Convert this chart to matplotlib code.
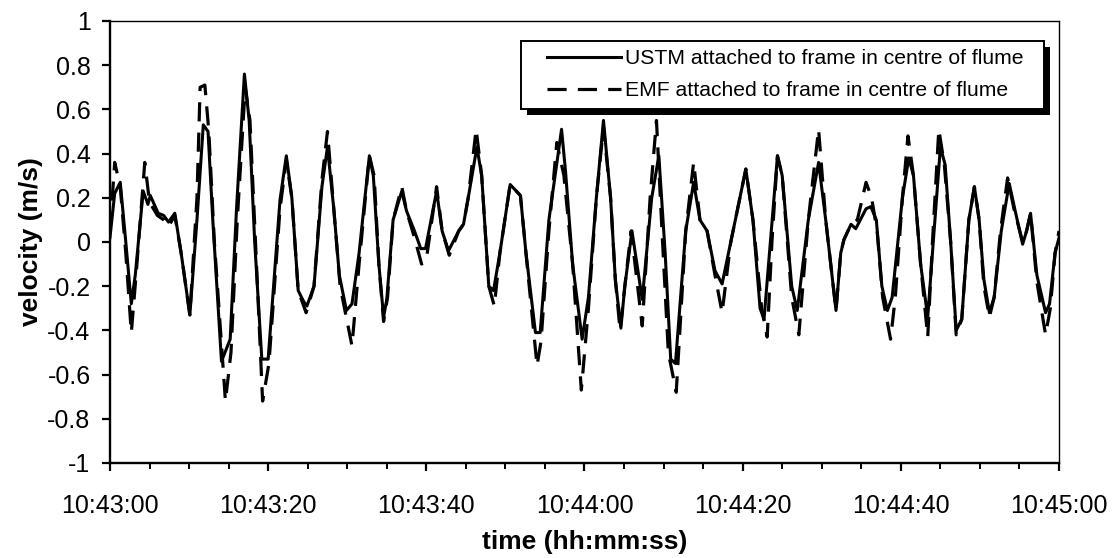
import matplotlib
matplotlib.use("Agg")
import matplotlib.pyplot as plt
from matplotlib.patches import Rectangle
from matplotlib.transforms import IdentityTransform

plt.rcParams['font.family'] = ['Liberation Sans', 'DejaVu Sans']

# seconds after 10:43:00
ustm_t = [0.0, 0.6, 1.3, 2.0, 2.7, 3.2, 4.2, 4.8, 5.1, 6.1, 6.8, 7.4, 8.2, 9.0,
          10.1, 11.0, 11.8, 12.4, 13.0, 14.1, 15.2, 16.0, 17.0, 17.6, 18.3, 19.2,
          20.0, 21.5, 22.3, 23.0, 23.8, 24.5, 24.9, 25.8, 26.8, 27.5, 28.3, 29.0,
          29.9, 30.6, 31.5, 32.8, 33.3, 34.0, 34.6, 35.0, 35.8, 36.9, 37.5, 38.5,
          39.3, 39.9, 41.3, 42.0, 42.8, 44.1, 44.7, 45.3, 46.4, 47.0, 47.9, 48.5,
          49.3, 50.6, 51.9, 52.6, 53.8, 54.4, 55.5, 57.1, 57.6, 58.5, 59.7, 60.5,
          61.5, 62.4, 63.3, 63.9, 64.6, 65.1, 66.0, 67.3, 68.5, 69.4, 70.2, 70.9,
          71.5, 72.8, 73.8, 74.6, 75.5, 76.5, 77.4, 78.5, 80.4, 81.3, 82.2, 82.7,
          83.5, 84.4, 85.0, 86.2, 86.9, 88.3, 89.6, 90.5, 91.8, 92.4, 92.8, 93.7,
          94.3, 95.6, 96.2, 96.9, 97.6, 98.3, 98.9, 100.2, 101.0, 101.6, 102.5,
          103.4, 104.1, 105.0, 105.6, 106.3, 107.0, 107.7, 108.6, 109.3, 109.9,
          110.5, 111.2, 111.8, 112.7, 113.7, 114.4, 115.4, 115.9, 116.4, 117.2,
          118.3, 118.8, 119.5, 120.0]
ustm_v = [0.02, 0.22, 0.27, 0.00, -0.28, -0.15, 0.23, 0.17, 0.21, 0.13, 0.12,
          0.09, 0.13, -0.05, -0.33, 0.10, 0.53, 0.50, 0.10, -0.54, -0.44, 0.15,
          0.76, 0.55, 0.00, -0.53, -0.53, 0.19, 0.39, 0.20, -0.22, -0.27, -0.29,
          -0.20, 0.25, 0.43, 0.15, -0.15, -0.31, -0.28, -0.05, 0.39, 0.30, -0.10,
          -0.34, -0.26, 0.10, 0.23, 0.14, 0.05, -0.03, -0.03, 0.23, 0.05, -0.04,
          0.05, 0.08, 0.20, 0.43, 0.30, -0.20, -0.22, -0.05, 0.26, 0.21, -0.05,
          -0.41, -0.41, 0.10, 0.51, 0.32, -0.10, -0.44, -0.25, 0.20, 0.55, 0.20,
          -0.17, -0.39, -0.20, 0.05, -0.26, 0.20, 0.39, -0.05, -0.53, -0.55, 0.05,
          0.27, 0.10, 0.05, -0.13, -0.19, 0.00, 0.33, 0.10, -0.30, -0.35, 0.00,
          0.39, 0.30, -0.20, -0.31, 0.10, 0.36, 0.10, -0.31, -0.05, 0.01, 0.08,
          0.06, 0.15, 0.16, 0.10, -0.20, -0.31, -0.25, 0.20, 0.38, 0.30, -0.10,
          -0.34, 0.00, 0.43, 0.35, 0.00, -0.40, -0.35, 0.10, 0.25, 0.10, -0.17,
          -0.32, -0.25, 0.05, 0.265, 0.15, -0.01, 0.05, 0.13, -0.15, -0.32, -0.28,
          -0.05, 0.02]

emf_t = [0.0, 0.6, 1.3, 2.0, 2.7, 3.3, 4.4, 5.0, 6.0, 6.8, 7.4, 8.2, 9.0, 10.1,
         11.0, 11.4, 12.0, 12.5, 13.2, 14.6, 15.3, 16.1, 17.1, 17.7, 18.4, 19.3,
         20.1, 21.5, 22.3, 23.0, 23.8, 24.8, 25.8, 26.8, 27.5, 28.3, 29.1, 30.6,
         31.5, 32.8, 33.4, 34.0, 34.6, 35.1, 35.8, 36.9, 37.5, 38.5, 39.4, 40.0,
         41.3, 42.0, 42.9, 44.1, 44.7, 45.3, 46.3, 47.0, 47.9, 48.6, 49.3, 50.6,
         51.9, 52.6, 54.0, 54.5, 55.5, 56.5, 57.4, 58.5, 59.6, 60.5, 61.5, 62.4,
         63.3, 63.9, 64.5, 65.1, 65.9, 67.3, 68.3, 69.1, 69.8, 70.6, 71.6, 72.8,
         73.8, 74.6, 75.5, 76.5, 77.4, 78.5, 80.4, 81.3, 82.4, 83.1, 83.7, 84.4,
         85.0, 86.2, 87.1, 88.3, 89.6, 90.5, 91.8, 92.4, 92.8, 93.7, 94.5, 95.6,
         96.3, 97.0, 97.7, 98.7, 99.3, 100.2, 100.9, 101.6, 102.5, 103.4, 104.0,
         104.8, 105.5, 106.3, 107.0, 107.7, 108.6, 109.3, 109.9, 110.5, 111.2,
         111.8, 112.6, 113.5, 114.3, 115.4, 115.9, 116.4, 117.2, 118.3, 118.9,
         119.5, 120.0]
emf_v = [0.05, 0.36, 0.25, -0.05, -0.41, -0.15, 0.36, 0.18, 0.12, 0.10, 0.07,
         0.12, -0.05, -0.33, 0.20, 0.70, 0.71, 0.50, 0.00, -0.72, -0.50, 0.10,
         0.70, 0.55, 0.00, -0.72, -0.55, 0.15, 0.37, 0.20, -0.22, -0.32, -0.20,
         0.28, 0.50, 0.15, -0.20, -0.47, -0.10, 0.39, 0.30, -0.10, -0.36, -0.25,
         0.10, 0.25, 0.14, 0.02, -0.10, -0.08, 0.25, 0.05, -0.06, 0.05, 0.08,
         0.20, 0.51, 0.30, -0.20, -0.29, -0.05, 0.26, 0.21, -0.05, -0.56, -0.45,
         0.05, 0.45, 0.30, -0.10, -0.67, -0.30, 0.20, 0.52, 0.20, -0.17, -0.40,
         -0.20, 0.05, -0.38, 0.20, 0.55, 0.05, -0.50, -0.68, 0.05, 0.36, 0.10,
         0.05, -0.15, -0.32, 0.00, 0.33, 0.10, -0.30, -0.43, 0.00, 0.39, 0.30,
         -0.25, -0.42, 0.10, 0.51, 0.10, -0.31, -0.05, 0.01, 0.08, 0.10, 0.27,
         0.20, 0.05, -0.25, -0.44, -0.25, 0.20, 0.48, 0.30, -0.10, -0.43, 0.00,
         0.51, 0.35, 0.00, -0.42, -0.35, 0.10, 0.25, 0.10, -0.20, -0.34, -0.25,
         0.05, 0.29, 0.15, 0.00, 0.05, 0.13, -0.18, -0.42, -0.30, -0.05, 0.05]

tick_secs = [0, 20, 40, 60, 80, 100, 120]
tick_labels = ['10:43:00', '10:43:20', '10:43:40', '10:44:00',
               '10:44:20', '10:44:40', '10:45:00']
y_ticks = [-1, -0.8, -0.6, -0.4, -0.2, 0, 0.2, 0.4, 0.6, 0.8, 1]
y_labels = ['-1', '-0.8', '-0.6', '-0.4', '-0.2', '0', '0.2', '0.4', '0.6', '0.8', '1']

fig = plt.figure(figsize=(11.13, 5.58), dpi=100)
ax = fig.add_axes([0.0988, 0.1703, 0.8527, 0.7921])

ax.plot(ustm_t, ustm_v, color='black', lw=2.2,
        label='USTM attached to frame in centre of flume')
ax.plot(emf_t, emf_v, color='black', lw=2.3, linestyle=(0, (6, 3.5)),
        label='EMF attached to frame in centre of flume')

ax.set_xlim(0, 120)
ax.set_ylim(-1, 1)
ax.set_xticks(tick_secs)
ax.set_xticklabels(tick_labels)
ax.set_xticks(range(0, 121, 5), minor=True)
ax.set_yticks(y_ticks)
ax.set_yticklabels(y_labels)

for side in ['left', 'bottom']:
    ax.spines[side].set_linewidth(1.7)
for side in ['top', 'right']:
    ax.spines[side].set_linewidth(1.0)

ax.tick_params(axis='y', which='major', direction='out', length=5.5, width=1.6,
               labelsize=18, pad=8.5)
ax.tick_params(axis='x', which='major', direction='out', length=6, width=1.6,
               labelsize=18, pad=16)
ax.tick_params(axis='x', which='minor', direction='out', length=4.5, width=1.4)

ax.set_xlabel('time (hh:mm:ss)', fontsize=19, fontweight='bold')
ax.set_ylabel('velocity (m/s)', fontsize=19, fontweight='bold')
ax.xaxis.set_label_coords(0.5, -0.152)
ax.yaxis.set_label_coords(-0.071, 0.5)

leg = ax.legend(loc='upper right', bbox_to_anchor=(0.963, 0.936), fontsize=15.2,
                frameon=False, handlelength=3.5, handletextpad=0.2,
                labelspacing=0.6, borderpad=0, borderaxespad=0)

# legend box with a solid drop shadow, padded wider than tall
fig.canvas.draw()
bb = leg.get_window_extent()
x0, y0 = bb.x0 - 26, bb.y0 - 9
w, h = bb.width + 26 + 20, bb.height + 17
ax.add_artist(Rectangle((x0 + 6, y0 - 6), w, h, transform=IdentityTransform(),
                        facecolor='black', edgecolor='none', zorder=4.8))
ax.add_artist(Rectangle((x0, y0), w, h, transform=IdentityTransform(),
                        facecolor='white', edgecolor='black', lw=1.4,
                        zorder=4.9))

fig.savefig('out.png', dpi=100)
